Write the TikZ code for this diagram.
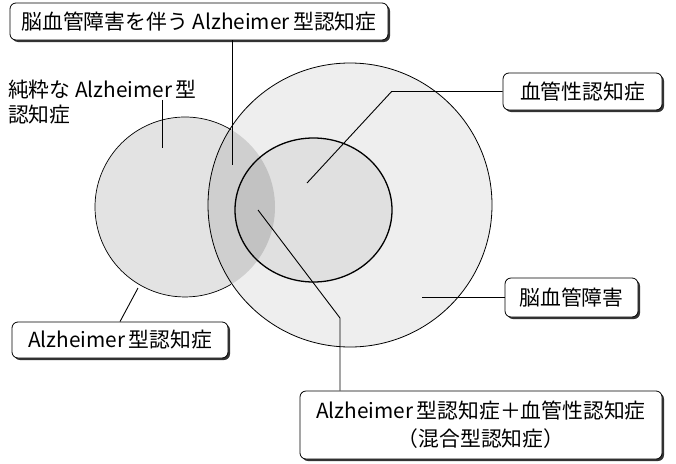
\documentclass[tikz,border=0pt]{standalone}
\usepackage{fontspec}
\setmainfont{Noto Sans CJK JP}
\usetikzlibrary{shadows}

\begin{document}
\begin{tikzpicture}[x=1pt, y=-1pt,
lbl/.style={draw, rounded corners=6pt, fill=white, line width=0.8pt, align=center,
  minimum height=37pt, inner sep=0pt,
  drop shadow={shadow xshift=2pt, shadow yshift=-2pt, fill=black!80, opacity=1}},
plain/.style={inner sep=0pt, anchor=west},
every node/.style={font=\fontsize{20.8pt}{28pt}\selectfont},
link/.style={line width=0.9pt}]

\useasboundingbox (0,0) rectangle (676,463);

\fill[gray!13] (350,205) circle [radius=142pt];
\fill[gray!22] (185,207) circle [radius=90pt];
\begin{scope}
\clip (185,207) circle [radius=90pt];
\fill[gray!38] (350,205) circle [radius=142pt];
\end{scope}
\fill[gray!24] (313.5,210) ellipse [x radius=78.5pt, y radius=72pt];
\begin{scope}
\clip (185,207) circle [radius=90pt];
\fill[gray!48] (313.5,210) ellipse [x radius=78.5pt, y radius=72pt];
\end{scope}

\draw[line width=0.8pt] (350,205) circle [radius=142pt];
\draw[line width=0.7pt] (185,207) ++(59.3:90pt) arc [start angle=59.3, end angle=300.7, radius=90pt];
\draw[line width=1.3pt] (313.5,210) ellipse [x radius=78.5pt, y radius=72pt];

\node (alzcvd) [lbl, minimum width=378pt] at (199,21.5) {脳血管障害を伴う Alzheimer\,型認知症};
\node (pure1) [plain] at (8,90) {純粋な Alzheimer\,型};
\node (pure2) [plain] at (8,115) {認知症};
\node (vad) [lbl, minimum width=159pt] at (582.5,91.5) {血管性認知症};
\node (cvd) [lbl, minimum width=133pt, minimum height=39pt] at (571.5,297.5) {脳血管障害};
\node (ad) [lbl, minimum width=216pt, minimum height=36pt] at (120,340) {Alzheimer\,型認知症};
\node (mixed) [lbl, minimum width=362pt, minimum height=68pt] at (481,425) {Alzheimer\,型認知症＋血管性認知症\\（混合型認知症）};

\coordinate (p1) at (232,165);
\coordinate (p2) at (162,148);
\coordinate (p3) at (307,183);
\coordinate (p4) at (422,297.5);
\coordinate (p5) at (138,288);
\coordinate (p6) at (258,210);
\coordinate (k6) at (340,318);

\draw[link] (p1 |- alzcvd.south) -- (p1);
\draw[link] (p2 |- pure1.south) -- (p2);
\draw[link] (vad.west) -- ++(-111,0) -- (p3);
\draw[link] (cvd.west) -- (p4);
\draw[link] (ad.north) -- (p5);
\draw[link] (k6 |- mixed.north) -- (k6) -- (p6);

\end{tikzpicture}
\end{document}
